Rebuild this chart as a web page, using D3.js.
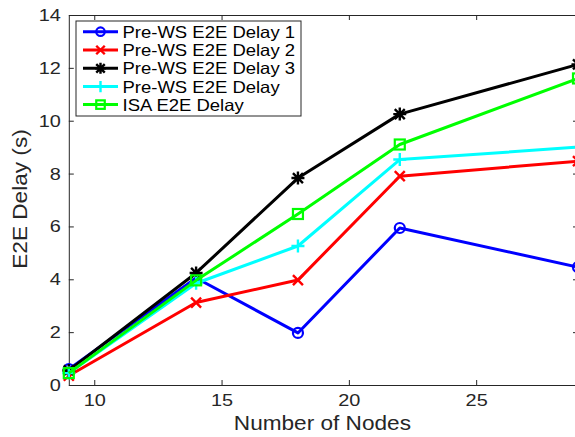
<!DOCTYPE html>
<html><head><meta charset="utf-8">
<script src="https://cdn.jsdelivr.net/npm/d3@7"></script>
<style>body{margin:0;background:#fff;overflow:hidden} text{font-family:"Liberation Sans",Arial,Helvetica,sans-serif}</style>
</head><body><svg id="c" width="575" height="437"></svg>
<script>
const nodes = [9, 14, 18, 22, 29];
const delay1 = [0.6, 4.05, 1.97, 5.94, 4.46];
const delay2 = [0.35, 3.12, 3.97, 7.9, 8.47];
const delay3 = [0.55, 4.24, 7.83, 10.25, 12.13];
const delayAvg = [0.45, 3.85, 5.26, 8.53, 9.0];
const isaDelay = [0.45, 3.96, 6.47, 9.1, 11.6];
const seriesNames = ["Pre-WS E2E Delay 1", "Pre-WS E2E Delay 2", "Pre-WS E2E Delay 3", "Pre-WS E2E Delay", "ISA E2E Delay"];
const seriesColors = ["#0000ff", "#ff0000", "#000000", "#00ffff", "#00ff00"];
const seriesMarkers = ["circle", "x", "star", "plus", "square"];
const xTicks = [10, 15, 20, 25];
const yTicks = [0, 2, 4, 6, 8, 10, 12, 14];
const xLabel = "Number of Nodes";
const yLabel = "E2E Delay (s)";

const allValues = [delay1, delay2, delay3, delayAvg, isaDelay];
const series = seriesNames.map((n, i) => ({name: n, color: seriesColors[i], marker: seriesMarkers[i],
  pts: nodes.map((x, j) => ({x, y: allValues[i][j]}))}));

const svg = d3.select("#c");
const L = 68.8, R = 578, T = 15, B = 385;
const x = d3.scaleLinear().domain([9, 29]).range([L, R]);
const y = d3.scaleLinear().domain([0, 14]).range([B, T]);
const axisColor = "#262626";
const STRETCH = 1.17;
function stretch(sel, f) {
  sel.each(function () {
    const w = this.getComputedTextLength();
    this.setAttribute("textLength", w * f);
    this.setAttribute("lengthAdjust", "spacingAndGlyphs");
  });
}

// axes
const gx = svg.append("g").attr("transform", `translate(0,${B})`)
  .call(d3.axisBottom(x).tickValues(xTicks).tickSize(-5).tickPadding(9).tickSizeOuter(0));
const gxt = svg.append("g").attr("transform", `translate(0,${T})`)
  .call(d3.axisTop(x).tickValues(xTicks).tickSize(-5).tickFormat("").tickSizeOuter(0));
const gy = svg.append("g").attr("transform", `translate(${L},0)`)
  .call(d3.axisLeft(y).tickValues(yTicks).tickSize(-5).tickPadding(8).tickSizeOuter(0));
const gyr = svg.append("g").attr("transform", `translate(${R},0)`)
  .call(d3.axisRight(y).tickValues(yTicks).tickSize(-5).tickFormat("").tickSizeOuter(0));
[gx, gxt, gy, gyr].forEach(g => {
  g.selectAll("path").attr("stroke", axisColor).attr("stroke-width", 1);
  g.selectAll("line").attr("stroke", axisColor).attr("stroke-width", 1);
  g.selectAll("text").attr("fill", axisColor).attr("font-size", 17)
    .attr("font-family", '"Liberation Sans",Arial,sans-serif');
});
gx.selectAll("text").attr("dy", "0.71em");
stretch(gx.selectAll("text"), STRETCH);
stretch(gy.selectAll("text"), STRETCH);

// labels
const xl = svg.append("text").attr("x", (L + R) / 2 - 1).attr("y", 430).attr("text-anchor", "middle")
  .attr("font-size", 20).attr("fill", axisColor).text(xLabel);
stretch(xl, 1.13);
const yl = svg.append("text").attr("transform", `translate(27,${(T + B) / 2 - 1}) rotate(-90)`)
  .attr("text-anchor", "middle").attr("font-size", 20).attr("fill", axisColor).text(yLabel);
stretch(yl, 1.13);

// markers
function drawMarker(g, type, color, cx, cy, s) {
  s = s || 1;
  if (type === "circle") {
    g.append("circle").attr("cx", cx).attr("cy", cy).attr("r", 5 * s).attr("fill", "none")
      .attr("stroke", color).attr("stroke-width", 2.2);
  } else if (type === "square") {
    g.append("rect").attr("x", cx - 5 * s).attr("y", cy - 5 * s).attr("width", 10 * s).attr("height", 10 * s)
      .attr("fill", "none").attr("stroke", color).attr("stroke-width", 2.2);
  } else {
    const d = d3.path();
    const a = 5 * s, p = 6.5 * s;
    if (type === "x" || type === "star") {
      d.moveTo(cx - a, cy - a); d.lineTo(cx + a, cy + a);
      d.moveTo(cx - a, cy + a); d.lineTo(cx + a, cy - a);
    }
    if (type === "plus" || type === "star") {
      d.moveTo(cx - p, cy); d.lineTo(cx + p, cy);
      d.moveTo(cx, cy - p); d.lineTo(cx, cy + p);
    }
    g.append("path").attr("d", d.toString()).attr("fill", "none").attr("stroke", color)
      .attr("stroke-width", 2.4);
  }
}

const line = d3.line().x(d => x(d.x)).y(d => y(d.y));
const plot = svg.append("g");
series.forEach(s => {
  const g = plot.append("g");
  g.append("path").datum(s.pts).attr("d", line).attr("fill", "none")
    .attr("stroke", s.color).attr("stroke-width", 3).attr("stroke-linejoin", "round");
  s.pts.forEach(p => drawMarker(g, s.marker, s.color, x(p.x), y(p.y), 1));
});

// legend
const lg = svg.append("g");
lg.append("rect").attr("x", 76).attr("y", 21).attr("width", 225).attr("height", 95)
  .attr("fill", "#fff").attr("stroke", axisColor).attr("stroke-width", 1);
const rowY = [31.7, 50, 68.3, 86.6, 104.6];
series.forEach((s, i) => {
  const yy = rowY[i];
  lg.append("line").attr("x1", 83).attr("x2", 118).attr("y1", yy).attr("y2", yy)
    .attr("stroke", s.color).attr("stroke-width", 3);
  drawMarker(lg, s.marker, s.color, 100.5, yy, 0.85);
  const t = lg.append("text").attr("x", 122.5).attr("y", yy + 6).attr("font-size", 16.5)
    .attr("fill", "#000").text(s.name);
  stretch(t, 1.12);
});
</script></body></html>
